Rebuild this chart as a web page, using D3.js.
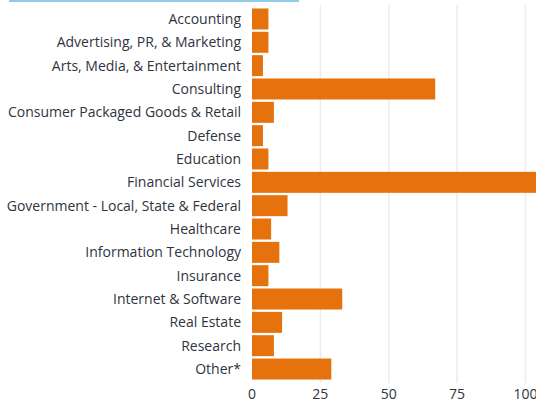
<!DOCTYPE html>
<html><head><meta charset="utf-8">
<script src="https://cdn.jsdelivr.net/npm/d3@7"></script>
<style>
html,body{margin:0;padding:0;background:#fff;overflow:hidden;}
svg{display:block;font-family:"Open Sans",sans-serif;}
</style></head>
<body>
<svg id="c" width="536" height="403"></svg>
<script>
const categories = ["Accounting","Advertising, PR, & Marketing","Arts, Media, & Entertainment","Consulting","Consumer Packaged Goods & Retail","Defense","Education","Financial Services","Government - Local, State & Federal","Healthcare","Information Technology","Insurance","Internet & Software","Real Estate","Research","Other*"];
const values = [6,6,4,67,8,4,6,112,13,7,10,6,33,11,8,29];
const ticks = [0,25,50,75,100];

const svg = d3.select("#c");
const x0 = 252, xEnd = 525.5;
const x = d3.scaleLinear().domain([0,100]).range([x0,xEnd]);
const y = d3.scaleBand().domain(categories).range([7.3,380.7]).paddingInner(0.1).paddingOuter(0.05);

// top accent line
svg.append("rect").attr("x",9).attr("y",0).attr("width",290).attr("height",2).attr("fill","#92cde6");

// gridlines
svg.append("g").selectAll("line").data(ticks.filter(t=>t>0)).join("line")
  .attr("x1",d=>x(d)).attr("x2",d=>x(d)).attr("y1",5).attr("y2",383)
  .attr("stroke","#ececec").attr("stroke-width",1.5);

// bars
svg.append("g").selectAll("rect").data(categories).join("rect")
  .attr("x",x(0)).attr("y",d=>y(d))
  .attr("width",(d,i)=>x(values[i])-x(0))
  .attr("height",y.bandwidth())
  .attr("fill","#e6720e");

// category labels
svg.append("g").selectAll("text").data(categories).join("text")
  .attr("x",241).attr("y",d=>y(d)+y.bandwidth()/2)
  .attr("dy","0.35em").attr("text-anchor","end")
  .attr("font-size",14).attr("fill","#2f3440").text(d=>d);

// x tick labels
svg.append("g").selectAll("text").data(ticks).join("text")
  .attr("x",d=>x(d)).attr("y",394).attr("dy","0.35em")
  .attr("text-anchor","middle").attr("font-size",14).attr("fill","#2f3440").text(d=>d);
</script>
</body></html>
